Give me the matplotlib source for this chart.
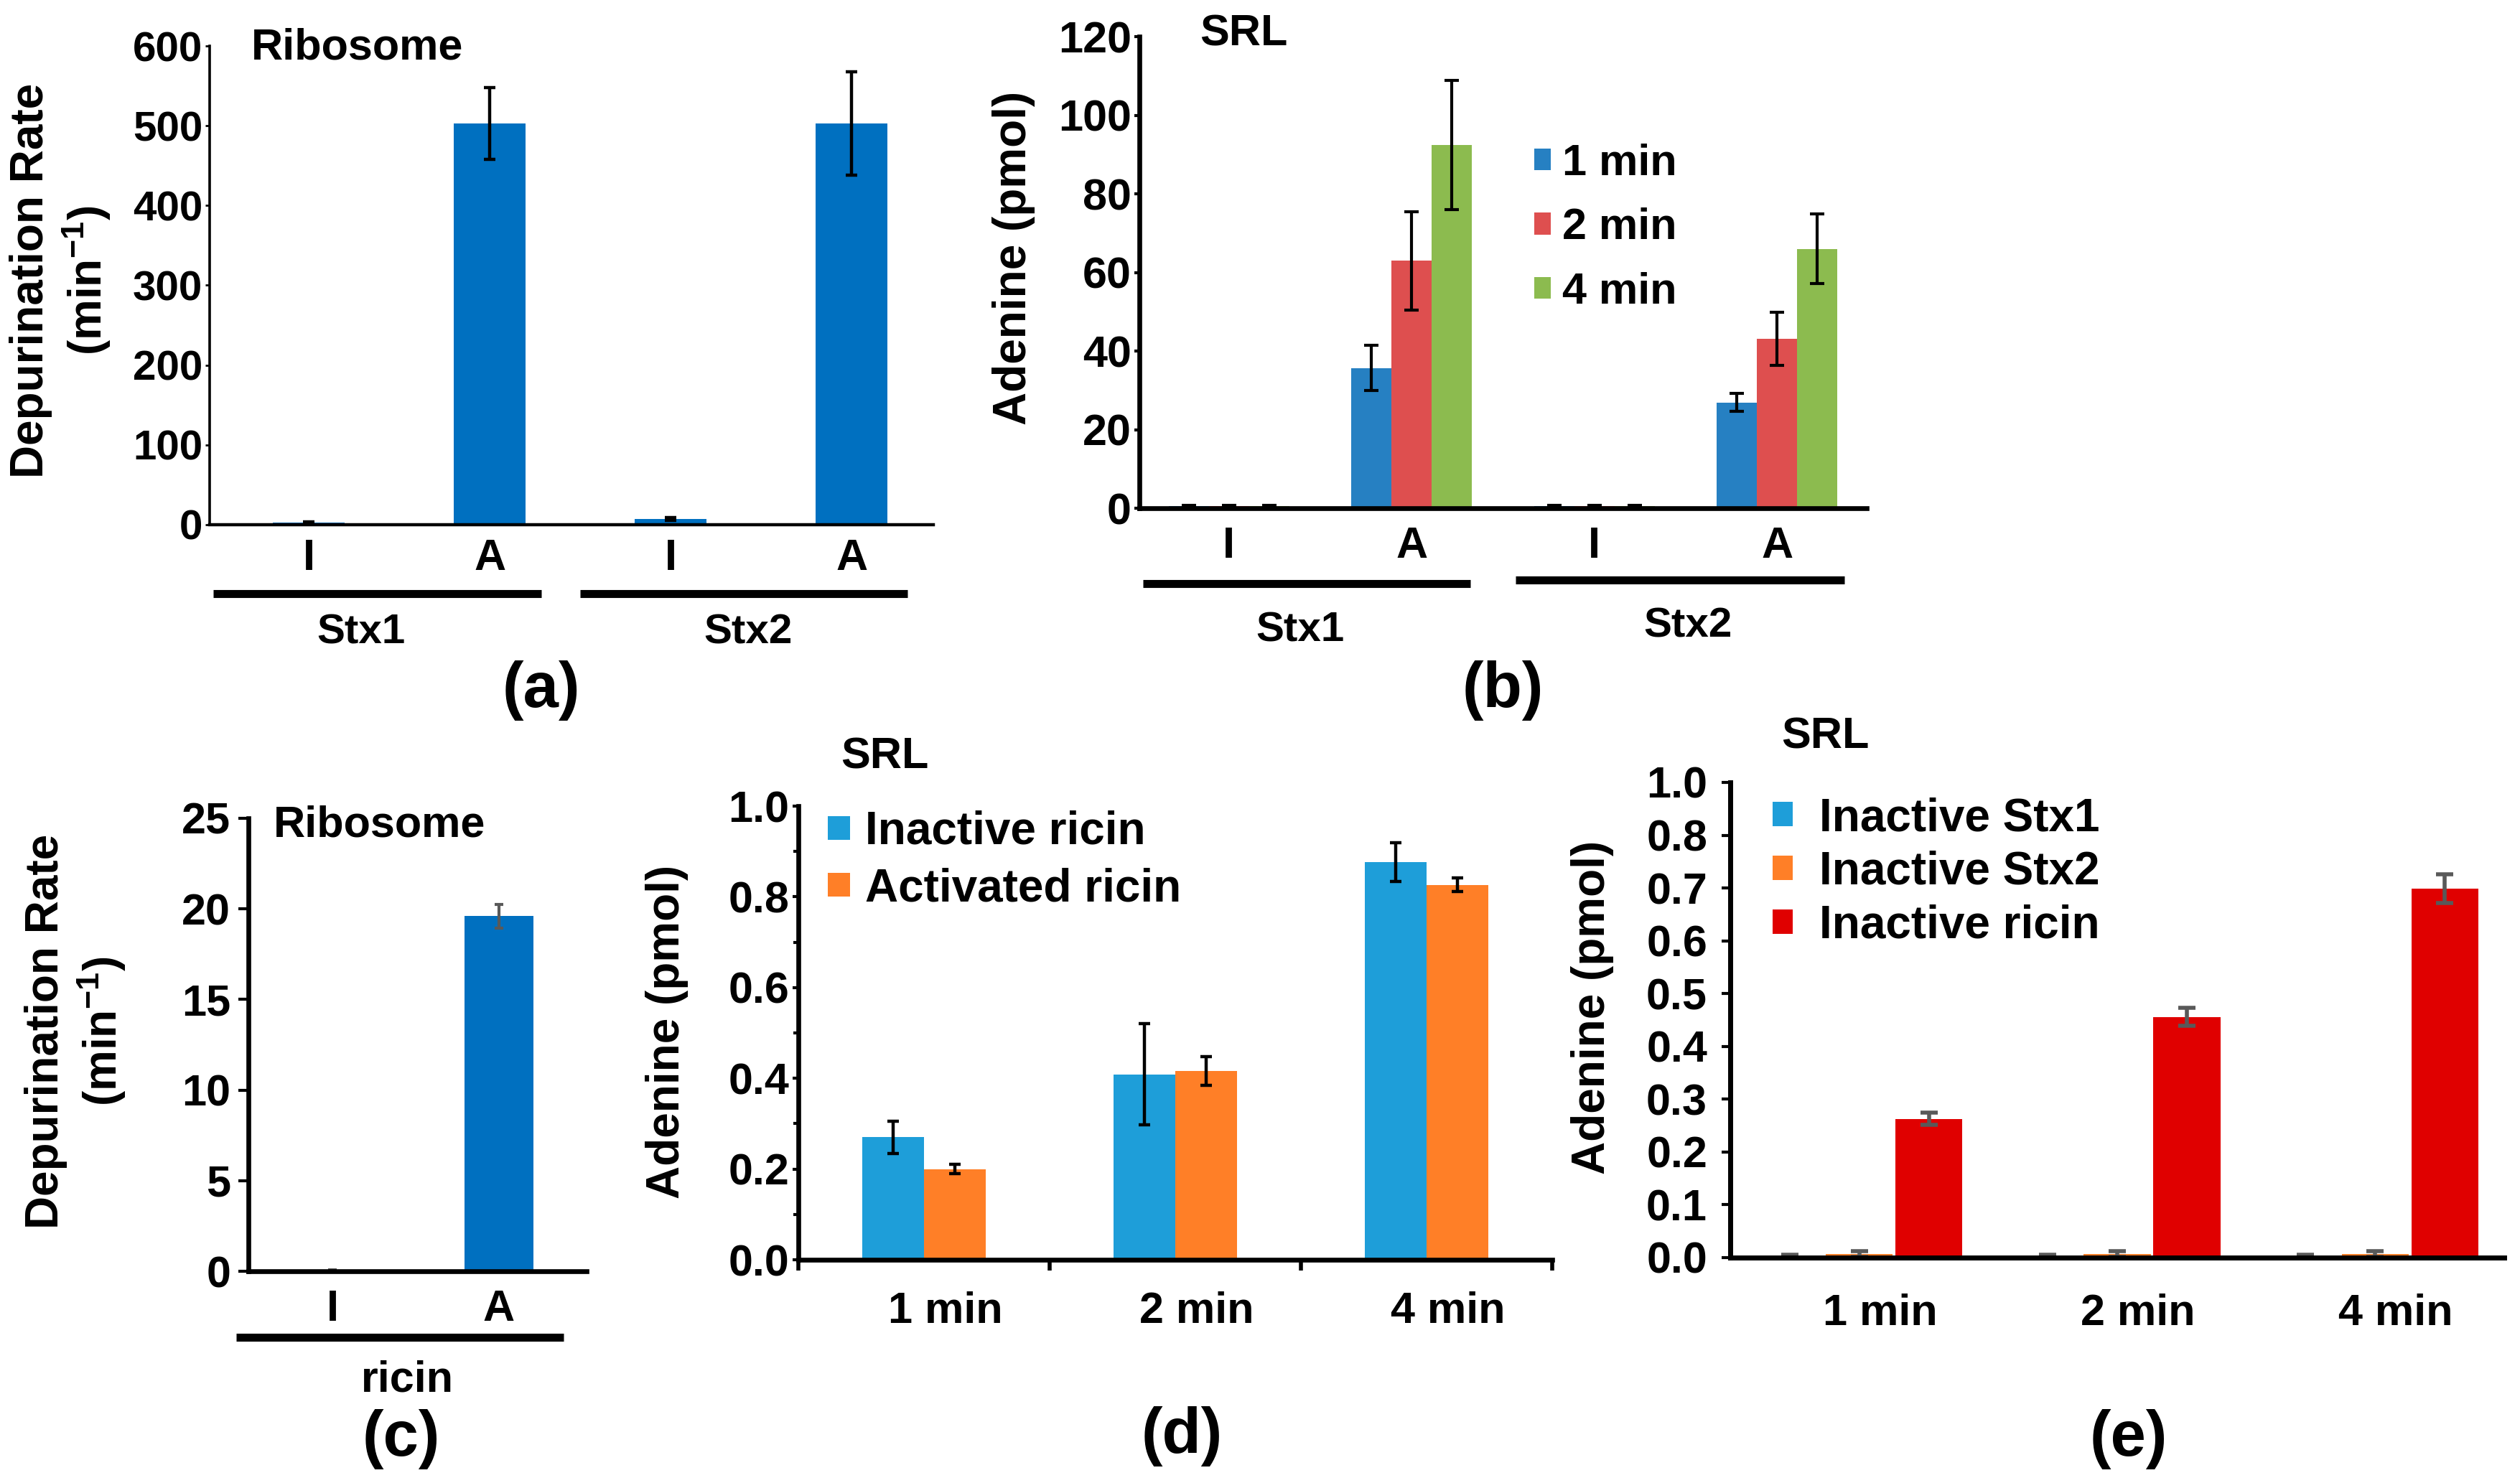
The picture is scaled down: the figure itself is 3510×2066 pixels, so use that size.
import matplotlib
matplotlib.use('Agg')
import matplotlib.pyplot as plt
import numpy as np
from matplotlib.patches import Patch
from matplotlib.ticker import MultipleLocator, FixedLocator

FONT = ['Liberation Sans', 'DejaVu Sans']
plt.rcParams['font.family'] = FONT
plt.rcParams['font.weight'] = 'bold'
plt.rcParams['mathtext.fontset'] = 'custom'
plt.rcParams['mathtext.rm'] = 'Liberation Sans:bold'
plt.rcParams['mathtext.default'] = 'rm'

# ---------------- data ----------------
# (a) Ribosome depurination, Stx1 / Stx2
a_labels = ['I', 'A', 'I', 'A']
a_groups = ['Stx1', 'Stx2']
a_values = [3, 503, 7, 503]
a_errors = [1, 45, 2, 65]
a_yticks = [0, 100, 200, 300, 400, 500, 600]

# (b) SRL adenine release, Stx1 / Stx2
b_labels = ['I', 'A', 'I', 'A']
b_groups = ['Stx1', 'Stx2']
b_series = ['1 min', '2 min', '4 min']
b_1min = [0.5, 35.7, 0.5, 26.9]
b_1min_err = [0.3, 5.8, 0.3, 2.3]
b_2min = [0.5, 63.0, 0.5, 43.1]
b_2min_err = [0.3, 12.5, 0.3, 6.8]
b_4min = [0.5, 92.4, 0.5, 66.0]
b_4min_err = [0.3, 16.5, 0.3, 8.8]
b_yticks = [0, 20, 40, 60, 80, 100, 120]

# (c) Ribosome depurination, ricin
c_labels = ['I', 'A']
c_group = 'ricin'
c_values = [0.05, 19.6]
c_errors = [0.02, 0.65]
c_yticks = [0, 5, 10, 15, 20, 25]

# (d) SRL, ricin
d_times = ['1 min', '2 min', '4 min']
d_series = ['Inactive ricin', 'Activated ricin']
d_inactive = [0.270, 0.409, 0.877]
d_inactive_err = [0.036, 0.112, 0.043]
d_activated = [0.200, 0.416, 0.826]
d_activated_err = [0.010, 0.031, 0.015]
d_yticks = [0.0, 0.2, 0.4, 0.6, 0.8, 1.0]

# (e) SRL, inactive toxins
e_times = ['1 min', '2 min', '4 min']
e_series = ['Inactive Stx1', 'Inactive Stx2', 'Inactive ricin']
e_stx1 = [0.001, 0.001, 0.001]
e_stx1_err = [0.004, 0.004, 0.004]
e_stx2 = [0.007, 0.007, 0.007]
e_stx2_err = [0.005, 0.005, 0.005]
e_ricin = [0.263, 0.456, 0.699]
e_ricin_err = [0.011, 0.017, 0.027]
e_yticks = [0.0, 0.1, 0.2, 0.3, 0.4, 0.5, 0.6, 0.7, 0.8, 0.9]
e_yticklabels = ['0.0', '0.1', '0.2', '0.3', '0.4', '0.5', '0.6', '0.7', '0.8', '1.0']

# ---------------- layout ----------------
W, H = 3510, 2066
DPI = 200
fig = plt.figure(figsize=(W / DPI, H / DPI), dpi=DPI)


def ax_px(l, r, t, b):
    return fig.add_axes([l / W, 1 - b / H, (r - l) / W, (b - t) / H])


def fig_pt(x, y):
    return (x / W, 1 - y / H)


def style(ax, lw_left, lw_bottom):
    for s in ['top', 'right']:
        ax.spines[s].set_visible(False)
    ax.spines['left'].set_linewidth(lw_left)
    ax.spines['bottom'].set_linewidth(lw_bottom)


def group_line(ax, x0, x1, y, lw=4.0):
    ax.plot([x0, x1], [y, y], transform=ax.get_xaxis_transform(), color='black',
            lw=lw, solid_capstyle='butt', clip_on=False)


def xtext(ax, x, y, s, size=21):
    ax.text(x, y, s, transform=ax.get_xaxis_transform(), ha='center', va='center',
            fontsize=size, fontweight='bold', clip_on=False)


FS = 22
BLUE_DARK = '#0070C0'

# ---- (a)
ax = ax_px(292, 1300, 64, 731)
style(ax, 1.3, 1.6)
xa = np.arange(len(a_values))
ax.bar(xa, a_values, width=0.4, color=BLUE_DARK)
ax.errorbar(xa, a_values, yerr=a_errors, fmt='none', ecolor='black', elinewidth=1.6,
            capsize=3.0, capthick=1.6)
ax.set_xlim(-0.548, 3.452)
ax.set_ylim(0, 600)
ax.set_yticks(a_yticks)
ax.set_xticks(xa)
ax.set_xticklabels(a_labels)
ax.tick_params(axis='x', length=0, pad=7, labelsize=FS)
ax.tick_params(axis='y', length=2, width=1, pad=1.5, labelsize=21)
ax.set_ylabel('Depurination Rate\n(min$^{-1}$)', fontsize=23, fontweight='bold')
ax.yaxis.set_label_coords(-0.205, 0.51)
ax.yaxis.label.set_va('center')
ax.text(0.0575, 0.9955, 'Ribosome', transform=ax.transAxes, ha='left', va='center',
        fontsize=22, fontweight='bold')
group_line(ax, -0.53, 1.286, -0.144)
group_line(ax, 1.5, 3.31, -0.144)
xtext(ax, 0.29, -0.225, a_groups[0])
xtext(ax, 2.43, -0.225, a_groups[1])
xtext(ax, 1.286, -0.346, '(a)', size=32)

# ---- (b)
ax = ax_px(1587, 2600, 51, 708)
style(ax, 2.4, 2.4)
xb = np.arange(len(b_labels))
b_colors = ['#2680C2', '#DE4F4F', '#8CBB4F']
b_vals = [b_1min, b_2min, b_4min]
b_errs = [b_1min_err, b_2min_err, b_4min_err]
handles = []
for i, (v, e, c, name) in enumerate(zip(b_vals, b_errs, b_colors, b_series)):
    pos = xb + (i - 1) * 0.22
    ax.bar(pos, v, width=0.22, color=c, label=name)
    ax.errorbar(pos, v, yerr=e, fmt='none', ecolor='black', elinewidth=1.5,
                capsize=3.6, capthick=1.5)
    handles.append(Patch(facecolor=c, label=name))
ax.set_xlim(-0.49, 3.49)
ax.set_ylim(0, 120)
ax.set_yticks(b_yticks)
ax.set_xticks(xb)
ax.set_xticklabels(b_labels)
ax.tick_params(axis='x', length=0, pad=9, labelsize=FS)
ax.tick_params(axis='y', length=2.5, width=1.5, pad=1.5, labelsize=FS)
ax.set_ylabel('Adenine (pmol)', fontsize=23, fontweight='bold')
ax.yaxis.set_label_coords(-0.173, 0.53)
ax.yaxis.label.set_va('center')
ax.text(0.083, 1.005, 'SRL', transform=ax.transAxes, ha='left', va='center',
        fontsize=22, fontweight='bold')
group_line(ax, -0.47, 1.32, -0.16)
group_line(ax, 1.57, 3.37, -0.152)
xtext(ax, 0.39, -0.259, b_groups[0])
xtext(ax, 2.51, -0.25, b_groups[1])
xtext(ax, 1.50, -0.387, '(b)', size=32)
ax.legend(handles=handles, loc='upper left', bbox_to_anchor=fig_pt(2137, 200),
          bbox_transform=fig.transFigure, frameon=False, borderpad=0, borderaxespad=0,
          handlelength=0.38, handleheight=0.38, handletextpad=0.25, labelspacing=0.53,
          prop={'size': 22, 'weight': 'bold'})

# ---- (c)
ax = ax_px(346, 817, 1140, 1771)
style(ax, 2.4, 2.4)
xc = np.arange(len(c_values))
ax.bar(xc, c_values, width=0.41, color=BLUE_DARK)
ax.errorbar(xc, c_values, yerr=c_errors, fmt='none', ecolor='#595959', elinewidth=1.5,
            capsize=2.2, capthick=1.5)
ax.set_xlim(-0.504, 1.526)
ax.set_ylim(0, 25)
ax.set_yticks(c_yticks)
ax.set_xticks(xc)
ax.set_xticklabels(c_labels)
ax.tick_params(axis='x', length=0, pad=9, labelsize=FS)
ax.tick_params(axis='y', length=5, width=1.5, pad=4, labelsize=FS)
ax.set_ylabel('Depurination Rate\n(min$^{-1}$)', fontsize=23, fontweight='bold')
ax.yaxis.set_label_coords(-0.51, 0.53)
ax.yaxis.label.set_va('center')
ax.text(0.074, 0.984, 'Ribosome', transform=ax.transAxes, ha='left', va='center',
        fontsize=22, fontweight='bold')
group_line(ax, -0.578, 1.388, -0.146)
xtext(ax, 0.448, -0.241, c_group, size=22)
xtext(ax, 0.414, -0.371, '(c)', size=32)

# ---- (d)
ax = ax_px(1112, 2162, 1123, 1755)
style(ax, 2.4, 2.4)
xd = np.arange(len(d_times))
d_colors = ['#1E9ED9', '#FF7F27']
handles = []
for i, (v, e, c, name) in enumerate(zip([d_inactive, d_activated],
                                        [d_inactive_err, d_activated_err],
                                        d_colors, d_series)):
    pos = xd + (i - 0.5) * 0.245
    ax.bar(pos, v, width=0.245, color=c, label=name)
    ax.errorbar(pos, v, yerr=e, fmt='none', ecolor='black', elinewidth=1.6,
                capsize=3.0, capthick=1.6)
    handles.append(Patch(facecolor=c, label=name))
ax.set_xlim(-0.5, 2.5)
ax.set_ylim(0, 1.0)
ax.set_yticks(d_yticks)
ax.set_yticklabels(['%.1f' % t for t in d_yticks])
ax.yaxis.set_minor_locator(MultipleLocator(0.1))
ax.set_xticks(xd + 0.085)
ax.set_xticklabels(d_times)
ax.xaxis.set_minor_locator(FixedLocator([-0.5, 0.5, 1.5, 2.5]))
ax.tick_params(axis='x', which='major', length=0, pad=16, labelsize=FS)
ax.tick_params(axis='x', which='minor', length=5.5, width=2)
ax.tick_params(axis='y', which='major', length=3, width=1.5, pad=1.5, labelsize=FS)
ax.tick_params(axis='y', which='minor', length=2.5, width=1.5)
ax.set_ylabel('Adenine (pmol)', fontsize=23, fontweight='bold')
ax.yaxis.set_label_coords(-0.174, 0.503)
ax.yaxis.label.set_va('center')
ax.text(0.056, 1.108, 'SRL', transform=ax.transAxes, ha='left', va='center',
        fontsize=22, fontweight='bold')
xtext(ax, 1.026, -0.389, '(d)', size=32)
ax.legend(handles=handles, loc='upper left', bbox_to_anchor=fig_pt(1153, 1129),
          bbox_transform=fig.transFigure, frameon=False, borderpad=0, borderaxespad=0,
          handlelength=0.48, handleheight=0.42, handletextpad=0.34, labelspacing=0.3,
          prop={'size': 23, 'weight': 'bold'})

# ---- (e)
ax = ax_px(2410, 3488, 1090, 1752)
style(ax, 2.5, 2.5)
xe = np.arange(len(e_times))
e_colors = ['#1E9ED9', '#FF7F27', '#E00000']
handles = []
for i, (v, e, c, name) in enumerate(zip([e_stx1, e_stx2, e_ricin],
                                        [e_stx1_err, e_stx2_err, e_ricin_err],
                                        e_colors, e_series)):
    pos = xe + (i - 1) * 0.27
    ax.bar(pos, v, width=0.26, color=c, label=name)
    ax.errorbar(pos, v, yerr=e, fmt='none', ecolor='#595959', elinewidth=2,
                capsize=4.3, capthick=2)
    handles.append(Patch(facecolor=c, label=name))
ax.set_xlim(-0.5, 2.5)
ax.set_ylim(0, 0.9)
ax.set_yticks(e_yticks)
ax.set_yticklabels(e_yticklabels)
ax.set_xticks(xe + 0.08)
ax.set_xticklabels(e_times)
ax.tick_params(axis='x', length=0, pad=18, labelsize=FS)
ax.tick_params(axis='y', length=4.5, width=1.5, pad=7, labelsize=FS)
ax.set_ylabel('Adenine (pmol)', fontsize=23, fontweight='bold')
ax.yaxis.set_label_coords(-0.178, 0.527)
ax.yaxis.label.set_va('center')
ax.text(0.066, 1.095, 'SRL', transform=ax.transAxes, ha='left', va='center',
        fontsize=22, fontweight='bold')
xtext(ax, 1.045, -0.382, '(e)', size=32)
ax.legend(handles=handles, loc='upper left', bbox_to_anchor=fig_pt(2469, 1110),
          bbox_transform=fig.transFigure, frameon=False, borderpad=0, borderaxespad=0,
          handlelength=0.44, handleheight=0.44, handletextpad=0.58, labelspacing=0.23,
          prop={'size': 23, 'weight': 'bold'})

fig.savefig('out.png', dpi=DPI)
